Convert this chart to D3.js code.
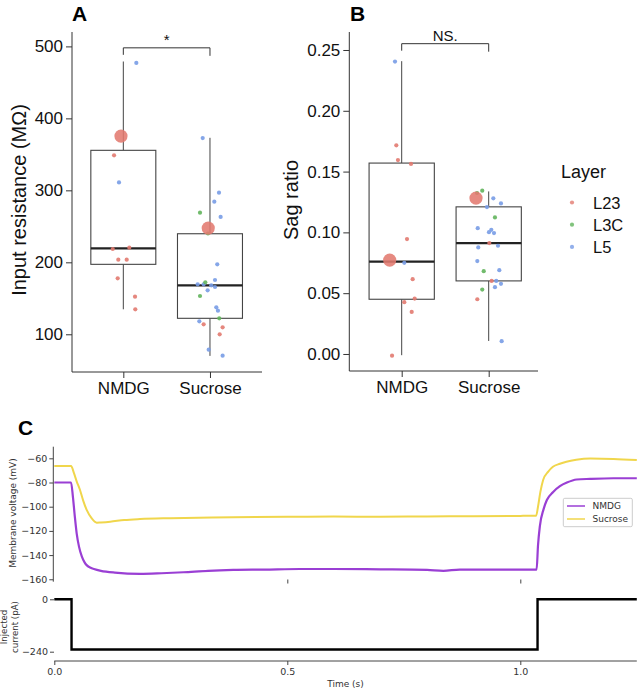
<!DOCTYPE html>
<html><head><meta charset="utf-8">
<script src="https://cdn.jsdelivr.net/npm/d3@7"></script>
<style>body{margin:0;background:#fff}svg{display:block}</style>
</head><body>
<script>
// ---------- DATA ----------
const categories = ["NMDG", "Sucrose"];
const layers = ["L23", "L3C", "L5"];
const layerColors = ["#e27a70", "#62b45c", "#789ce6"];

// Panel A: input resistance (MOhm) — [category index, jitter, value, layer]
const resistanceCat   = [0,0,0,0,0,0,0,0,0,0, 1,1,1,1,1,1,1,1,1,1,1,1,1,1,1,1,1,1,1,1,1,1,1,1];
const resistanceJit   = [0.15,-0.107,-0.05,-0.122,0.069,-0.058,0.039,-0.065,0.135,0.138,
  -0.084,0.104,0.05,-0.115,0.123,-0.023,0.084,-0.142,-0.073,-0.054,0.058,0.015,0.058,-0.027,-0.115,0.073,0.092,0.107,-0.123,-0.073,0.146,0.112,-0.015,0.146];
const resistanceVal   = [477,348.6,311,218.5,220.3,203.6,203.6,177.8,152.3,134.7,
  372.6,296.7,284.2,268.9,263,240,197.2,169.4,169.4,172.2,175.4,168,165.7,161.1,153.2,137.5,132.8,122.2,118,113.9,109.7,100,78.6,70.3];
const resistanceLayer = ["L5","L23","L5","L23","L23","L23","L23","L23","L23","L23",
  "L5","L5","L5","L3C","L5","L3C","L5","L5","L5","L3C","L5","L5","L5","L5","L3C","L5","L5","L3C","L5","L23","L23","L23","L5","L5"];
const resistanceExample = [{cat:0, jit:-0.027, val:375.4}, {cat:1, jit:-0.02, val:247.6}];
// box stats [q1, median, q3, whiskerLow, whiskerHigh]
const resistanceBox = [[197.2,219.4,355.6,134.7,479],[122.2,168,239.7,70,373]];
const resistanceTicks = [100,200,300,400,500];

// Panel B: sag ratio
const sagCat   = [0,0,0,0,0,0,0,0,0,0,0, 1,1,1,1,1,1,1,1,1,1,1,1,1,1,1,1,1,1,1,1,1,1,1];
const sagJit   = [-0.077,-0.062,-0.043,0.107,0.061,0.03,0.126,0.149,0.03,0.115,-0.111,
  -0.074,-0.134,0.053,0.141,-0.02,0.072,-0.126,0.03,0.003,0.061,0.007,0.107,-0.12,-0.131,-0.057,0.122,0.034,0.087,0.141,0.072,-0.074,-0.131,0.149];
const sagVal   = [0.2405,0.1716,0.1595,0.1563,0.0945,0.075,0.0615,0.0456,0.0426,0.0346,-0.0014,
  0.1343,0.1324,0.128,0.1238,0.1208,0.1123,0.1035,0.1021,0.1002,0.0994,0.0912,0.089,0.0876,0.0764,0.0681,0.0689,0.0601,0.0601,0.0577,0.0549,0.053,0.045,0.0105];
const sagLayer = ["L5","L23","L23","L23","L23","L5","L23","L23","L23","L23","L23",
  "L3C","L3C","L5","L5","L5","L3C","L5","L5","L5","L5","L23","L5","L5","L5","L3C","L5","L23","L5","L5","L5","L3C","L23","L5"];
const sagExample = [{cat:0, jit:-0.138, val:0.0772}, {cat:1, jit:-0.146, val:0.1282}];
const sagBox = [[0.045,0.076,0.157,-0.001,0.2408],[0.0601,0.0912,0.121,0.0107,0.1337]];
const sagTicks = [0.00,0.05,0.10,0.15,0.20,0.25];

// Panel C: traces
const nmdgT = [0,0.036,0.04,0.044,0.048,0.053,0.059,0.065,0.07,0.078,0.085,0.1,0.13,0.184,0.23,0.277,0.33,0.384,0.45,0.527,0.6,0.7,0.8,0.835,0.87,0.95,1.035,1.038,1.042,1.05,1.057,1.07,1.085,1.1,1.121,1.15,1.2,1.25];
const nmdgV = [-80,-80,-92,-108,-122,-133,-141,-146,-148.5,-150.5,-151.5,-153,-154.5,-155.5,-155,-154.2,-153,-152.3,-152,-151.5,-151.5,-151.8,-152.3,-153,-152,-152,-152,-132,-116,-102,-94.5,-88,-83,-80,-77.5,-77,-76.5,-76.5];
const sucroseT = [0,0.036,0.042,0.048,0.055,0.062,0.0695,0.08,0.091,0.1,0.12,0.15,0.184,0.25,0.384,0.5,0.6,0.7,0.8,0.9,1.0,1.034,1.038,1.043,1.049,1.06,1.07,1.085,1.099,1.12,1.15,1.2,1.25];
const sucroseV = [-66.4,-66.4,-72,-79,-86,-95,-102.7,-109.5,-113.2,-113,-112.4,-111,-110.2,-109.5,-108.8,-108.3,-108.2,-108.3,-108,-107.8,-107.6,-107.4,-100,-88,-77.9,-71,-67,-64.5,-62.8,-61.2,-60.2,-60.5,-61.4];
const currentT = [0,0.037,0.037,1.037,1.037,1.25];
const currentI = [0,0,-230,-230,0,0];
const voltageTicks = [-160,-140,-120,-100,-80,-60];
const currentTicks = [-240,0];
const timeTicks = [0,0.5,1.0];

// ---------- DRAW ----------
const W = 638, H = 690;
const svg = d3.select("body").append("svg").attr("width", W).attr("height", H);
const sansAB = "'Liberation Sans', Arial, Helvetica, sans-serif";
const sansC = "'DejaVu Sans', Verdana, sans-serif";
const colorOf = d3.scaleOrdinal().domain(layers).range(layerColors);

function boxPanel(opts) {
  const g = svg.append("g");
  const x = d3.scaleLinear().domain([-0.5, 1.5]).range(opts.xr);
  const y = d3.scaleLinear().domain(opts.yd).range([opts.bottom, opts.top]);
  const step = x(1) - x(0), bw = step * 0.75;
  g.append("line").attr("x1", opts.axX).attr("x2", opts.axX).attr("y1", opts.top).attr("y2", opts.bottom)
    .attr("stroke", "#333").attr("stroke-width", 1);
  g.append("line").attr("x1", opts.axX).attr("x2", opts.axRight).attr("y1", opts.bottom).attr("y2", opts.bottom)
    .attr("stroke", "#333").attr("stroke-width", 1);
  const ya = g.append("g").attr("transform", `translate(${opts.axX},0)`)
    .call(d3.axisLeft(y).tickValues(opts.ticks).tickFormat(opts.fmt).tickSize(6).tickPadding(3));
  ya.select(".domain").remove();
  ya.selectAll("line").attr("stroke", "#333");
  ya.selectAll("text").attr("font-family", sansAB).attr("font-size", 17).attr("fill", "#111");
  const xa = g.append("g").attr("transform", `translate(0,${opts.bottom})`)
    .call(d3.axisBottom(x).tickValues([0, 1]).tickFormat(i => categories[i]).tickSize(6).tickPadding(4));
  xa.select(".domain").remove();
  xa.selectAll("line").attr("stroke", "#333");
  xa.selectAll("text").attr("font-family", sansAB).attr("font-size", 17).attr("fill", "#111");
  g.append("text").attr("transform", `translate(${opts.labX},${opts.labY}) rotate(-90)`)
    .attr("text-anchor", "middle").attr("font-family", sansAB).attr("font-size", opts.labSize)
    .attr("fill", "#111").text(opts.label);
  opts.box.forEach((b, i) => {
    const cx = x(i);
    g.append("line").attr("x1", cx).attr("x2", cx).attr("y1", y(b[3])).attr("y2", y(b[0])).attr("stroke", "#444");
    g.append("line").attr("x1", cx).attr("x2", cx).attr("y1", y(b[4])).attr("y2", y(b[2])).attr("stroke", "#444");
    g.append("rect").attr("x", cx - bw / 2).attr("width", bw).attr("y", y(b[2])).attr("height", y(b[0]) - y(b[2]))
      .attr("fill", "#fff").attr("stroke", "#444").attr("stroke-width", 1.1);
    g.append("line").attr("x1", cx - bw / 2).attr("x2", cx + bw / 2).attr("y1", y(b[1])).attr("y2", y(b[1]))
      .attr("stroke", "#222").attr("stroke-width", 2.2);
  });
  opts.cat.forEach((c, i) => {
    g.append("circle").attr("cx", x(c + opts.jit[i])).attr("cy", y(opts.val[i])).attr("r", 2.1)
      .attr("fill", colorOf(opts.layer[i])).attr("fill-opacity", 0.9);
  });
  opts.example.forEach(e => {
    g.append("circle").attr("cx", x(e.cat + e.jit)).attr("cy", y(e.val)).attr("r", 6.6)
      .attr("fill", colorOf("L23")).attr("fill-opacity", 0.88);
  });
  const by = y(opts.bracket);
  g.append("path").attr("d", `M${x(0)},${by + 7}V${by}H${x(1)}V${by + 8}`)
    .attr("fill", "none").attr("stroke", "#333").attr("stroke-width", 1);
  g.append("text").attr("x", (x(0) + x(1)) / 2).attr("y", by - 3).attr("text-anchor", "middle")
    .attr("font-family", sansAB).attr("font-size", opts.sigSize).attr("fill", "#111").text(opts.sig);
  g.append("text").attr("x", opts.letterX).attr("y", 21).attr("font-family", sansAB).attr("font-weight", "bold")
    .attr("font-size", 21).attr("fill", "#000").text(opts.letter);
}

boxPanel({xr: [80, 253.3], yd: [47.6, 520], top: 32, bottom: 372, axX: 72, axRight: 262,
  ticks: resistanceTicks, fmt: d3.format("d"), label: "Input resistance (MΩ)", labX: 26, labY: 200, labSize: 20,
  box: resistanceBox, cat: resistanceCat, jit: resistanceJit, val: resistanceVal, layer: resistanceLayer,
  example: resistanceExample, bracket: 498, sig: "*", sigSize: 15, letter: "A", letterX: 72});

boxPanel({xr: [358.2, 532.2], yd: [-0.014, 0.2648], top: 32, bottom: 371, axX: 349.3, axRight: 538,
  ticks: sagTicks, fmt: d3.format(".2f"), label: "Sag ratio", labX: 298, labY: 200, labSize: 20,
  box: sagBox, cat: sagCat, jit: sagJit, val: sagVal, layer: sagLayer,
  example: sagExample, bracket: 0.2552, sig: "NS.", sigSize: 15, letter: "B", letterX: 350});

const lg = svg.append("g");
lg.append("text").attr("x", 561).attr("y", 178).attr("font-family", sansAB).attr("font-size", 18).attr("fill", "#111").text("Layer");
layers.forEach((l, i) => {
  const yy = 202.5 + i * 22.2;
  lg.append("circle").attr("cx", 572).attr("cy", yy).attr("r", 2.1).attr("fill", colorOf(l)).attr("fill-opacity", 0.8);
  lg.append("text").attr("x", 593).attr("y", yy + 6).attr("font-family", sansAB).attr("font-size", 16.5).attr("fill", "#111").text(l);
});

// ---------- Panel C ----------
const gc = svg.append("g");
const xt = d3.scaleLinear().domain([0, 1.25]).range([54.3, 636.8]);
const yv = d3.scaleLinear().domain([-162, -50.4]).range([581.7, 446.7]);
const yi = d3.scaleLinear().domain([-240, 0]).range([651.7, 599.3]);

gc.append("text").attr("x", 18).attr("y", 435).attr("font-family", sansAB).attr("font-weight", "bold")
  .attr("font-size", 21).attr("fill", "#000").text("C");

gc.append("line").attr("x1", 53.3).attr("x2", 53.3).attr("y1", 446.7).attr("y2", 581.7).attr("stroke", "#444");
const va = gc.append("g").attr("transform", "translate(53.3,0)")
  .call(d3.axisLeft(yv).tickValues(voltageTicks).tickSize(4).tickPadding(2));
va.select(".domain").remove();
va.selectAll("line").attr("stroke", "#444");
va.selectAll("text").attr("font-family", sansC).attr("font-size", 9.5).attr("fill", "#333");
const vb = gc.append("g").attr("transform", "translate(0,579.5)")
  .call(d3.axisBottom(xt).tickValues([0.5, 1.0]).tickSize(4).tickFormat(""));
vb.select(".domain").remove();
vb.selectAll("line").attr("stroke", "#444");
gc.append("text").attr("transform", "translate(16,513) rotate(-90)").attr("text-anchor", "middle")
  .attr("font-family", sansC).attr("font-size", 9).attr("fill", "#333").text("Membrane voltage (mV)");

const vLine = d3.line().x(d => xt(d[0])).y(d => yv(d[1])).curve(d3.curveMonotoneX);
gc.append("path").datum(sucroseT.map((t, i) => [t, sucroseV[i]])).attr("d", vLine)
  .attr("fill", "none").attr("stroke", "#f0d64c").attr("stroke-width", 2);
gc.append("path").datum(nmdgT.map((t, i) => [t, nmdgV[i]])).attr("d", vLine)
  .attr("fill", "none").attr("stroke", "#9a3fd4").attr("stroke-width", 2.2);

const tl = gc.append("g");
tl.append("rect").attr("x", 563.3).attr("y", 498.3).attr("width", 69).attr("height", 28.4)
  .attr("fill", "#fff").attr("stroke", "#cccccc").attr("stroke-width", 1).attr("rx", 1.5);
[["NMDG", "#9a3fd4"], ["Sucrose", "#f0d64c"]].forEach((d, i) => {
  const yy = 506 + i * 13;
  tl.append("line").attr("x1", 567).attr("x2", 585).attr("y1", yy).attr("y2", yy).attr("stroke", d[1]).attr("stroke-width", 1.5);
  tl.append("text").attr("x", 592.5).attr("y", yy + 3.3).attr("font-family", sansC).attr("font-size", 9)
    .attr("fill", "#333").text(d[0]);
});

const ia = gc.append("g").attr("transform", "translate(54,0)")
  .call(d3.axisLeft(yi).tickValues(currentTicks).tickSize(4).tickPadding(2));
ia.select(".domain").remove();
ia.selectAll("line").attr("stroke", "#444");
ia.selectAll("text").attr("font-family", sansC).attr("font-size", 9.5).attr("fill", "#333");
const ta = gc.append("g").attr("transform", "translate(0,661)")
  .call(d3.axisBottom(xt).tickValues(timeTicks).tickFormat(d3.format(".1f")).tickSize(4).tickPadding(3));
ta.select(".domain").remove();
ta.selectAll("line").attr("stroke", "#444");
ta.selectAll("text").attr("font-family", sansC).attr("font-size", 9.5).attr("fill", "#333");
gc.append("line").attr("x1", 54.3).attr("x2", 636.8).attr("y1", 661).attr("y2", 661).attr("stroke", "#444");
gc.append("text").attr("x", 345.5).attr("y", 687).attr("text-anchor", "middle").attr("font-family", sansC)
  .attr("font-size", 9).attr("fill", "#333").text("Time (s)");
const il = gc.append("text").attr("transform", "translate(0,627) rotate(-90)").attr("text-anchor", "middle")
  .attr("font-family", sansC).attr("font-size", 8.6).attr("fill", "#333");
il.append("tspan").attr("x", 0).attr("y", 7).text("Injected");
il.append("tspan").attr("x", 0).attr("y", 17.5).text("current (pA)");

const iLine = d3.line().x(d => xt(d[0])).y(d => yi(d[1]));
gc.append("path").datum(currentT.map((t, i) => [t, currentI[i]])).attr("d", iLine)
  .attr("fill", "none").attr("stroke", "#000").attr("stroke-width", 2.4);
</script>
</body></html>
